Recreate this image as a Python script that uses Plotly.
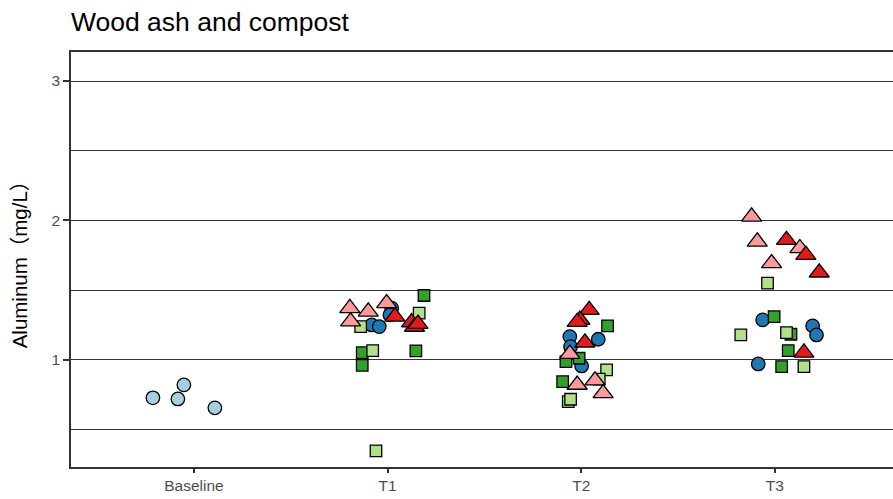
import plotly.graph_objects as go

# Sampling periods shown on the x axis
categories = ["Baseline", "T1", "T2", "T3"]

# Each series: period index (1-based), aluminum value (mg/L), horizontal jitter
baseline_period = [1, 1, 1, 1]
baseline_al = [0.728, 0.720, 0.821, 0.656]
baseline_jit = [-0.212, -0.083, -0.052, 0.108]

ash_period = [2, 2, 2, 2, 3, 3, 3, 3, 4, 4, 4, 4]
ash_al = [1.251, 1.239, 1.371, 1.323, 1.167, 1.148, 1.095, 0.957, 1.287, 1.244, 1.179, 0.971]
ash_jit = [-0.082, -0.043, 0.021, 0.012, -0.059, 0.088, -0.055, 0.002, -0.063, 0.195, 0.215, -0.086]

comp_lo_period = [2, 2, 2, 2, 3, 3, 3, 3, 4, 4, 4, 4]
comp_lo_al = [1.462, 1.052, 0.961, 1.065, 1.244, 1.012, 0.988, 0.844, 1.310, 1.184, 1.067, 0.952]
comp_lo_jit = [0.188, -0.131, -0.131, 0.146, 0.136, -0.011, -0.079, -0.096, -0.004, 0.083, 0.069, 0.035]

comp_hi_period = [2, 2, 2, 2, 3, 3, 3, 3, 4, 4, 4, 4]
comp_hi_al = [1.239, 1.335, 1.067, 0.348, 0.928, 0.862, 0.701, 0.718, 1.550, 1.179, 1.196, 0.952]
comp_hi_jit = [-0.139, 0.163, -0.077, -0.060, 0.131, 0.093, -0.067, -0.055, -0.038, -0.176, 0.060, 0.150]

mix_lo_period = [2, 2, 2, 2, 3, 3, 3, 3, 4, 4, 4, 4]
mix_lo_al = [1.371, 1.346, 1.275, 1.406, 1.043, 0.821, 0.852, 0.761, 2.027, 1.848, 1.801, 1.693]
mix_lo_jit = [-0.195, -0.100, -0.191, -0.005, -0.059, -0.021, 0.071, 0.113, -0.120, -0.091, 0.129, -0.017]

mix_hi_period = [2, 2, 2, 2, 3, 3, 3, 3, 4, 4, 4, 4]
mix_hi_al = [1.310, 1.269, 1.237, 1.258, 1.358, 1.287, 1.272, 1.124, 1.860, 1.753, 1.626, 1.052]
mix_hi_jit = [0.038, 0.124, 0.139, 0.157, 0.041, -0.007, -0.021, 0.019, 0.060, 0.160, 0.229, 0.150]

series = [
    ("Baseline", baseline_period, baseline_al, baseline_jit, "circle", "#a6cee3", 13.5),
    ("Wood ash", ash_period, ash_al, ash_jit, "circle", "#1f78b4", 13.5),
    ("Compost low", comp_lo_period, comp_lo_al, comp_lo_jit, "square", "#33a02c", 11.5),
    ("Compost high", comp_hi_period, comp_hi_al, comp_hi_jit, "square", "#b2df8a", 11.5),
    ("Ash + compost low", mix_lo_period, mix_lo_al, mix_lo_jit, "triangle-up", "#fb9a99", 17.5),
    ("Ash + compost high", mix_hi_period, mix_hi_al, mix_hi_jit, "triangle-up", "#e31a1c", 17.5),
]

fig = go.Figure()
for name, period, vals, jit, sym, col, size in series:
    fig.add_trace(go.Scatter(
        x=[p + j for p, j in zip(period, jit)],
        y=vals,
        mode="markers",
        name=name,
        marker=dict(symbol=sym, color=col, size=size,
                    line=dict(color="black", width=1.3)),
        showlegend=False,
    ))

axis_col = "#333333"
fig.update_layout(
    width=893, height=499,
    margin=dict(l=71, r=0, t=52, b=32),
    paper_bgcolor="white", plot_bgcolor="white",
    font=dict(family="Liberation Sans, Arial, Noto Sans CJK SC, sans-serif", color="#4d4d4d"),
    title=dict(text="Wood ash and compost", x=0, xref="paper", xanchor="left",
               y=1 - 22 / 499, yref="container", yanchor="middle",
               font=dict(size=26.5, color="black")),
)
fig.update_xaxes(
    range=[0.365, 4.61],
    tickvals=[1, 2, 3, 4], ticktext=categories,
    ticks="outside", ticklen=4, tickcolor=axis_col, tickwidth=1.5,
    tickfont=dict(size=15.5, color="#4d4d4d"),
    showgrid=False, zeroline=False,
    showline=True, linecolor=axis_col, linewidth=1.5, mirror=True,
)
fig.update_yaxes(
    range=[0.232, 3.208],
    tickvals=[1, 2, 3],
    ticks="outside", ticklen=6, tickcolor=axis_col, tickwidth=1.5,
    tickfont=dict(size=15.5, color="#4d4d4d"),
    showgrid=True, gridcolor=axis_col, gridwidth=0.8,
    minor=dict(tickvals=[0.5, 1.5, 2.5], showgrid=True, gridcolor=axis_col, gridwidth=0.8, ticks=""),
    zeroline=False,
    showline=True, linecolor=axis_col, linewidth=1.5,
    title=dict(text="Aluminum（mg/L）", font=dict(size=20.5, color="black"), standoff=18),
)

fig.write_html("out.html")
